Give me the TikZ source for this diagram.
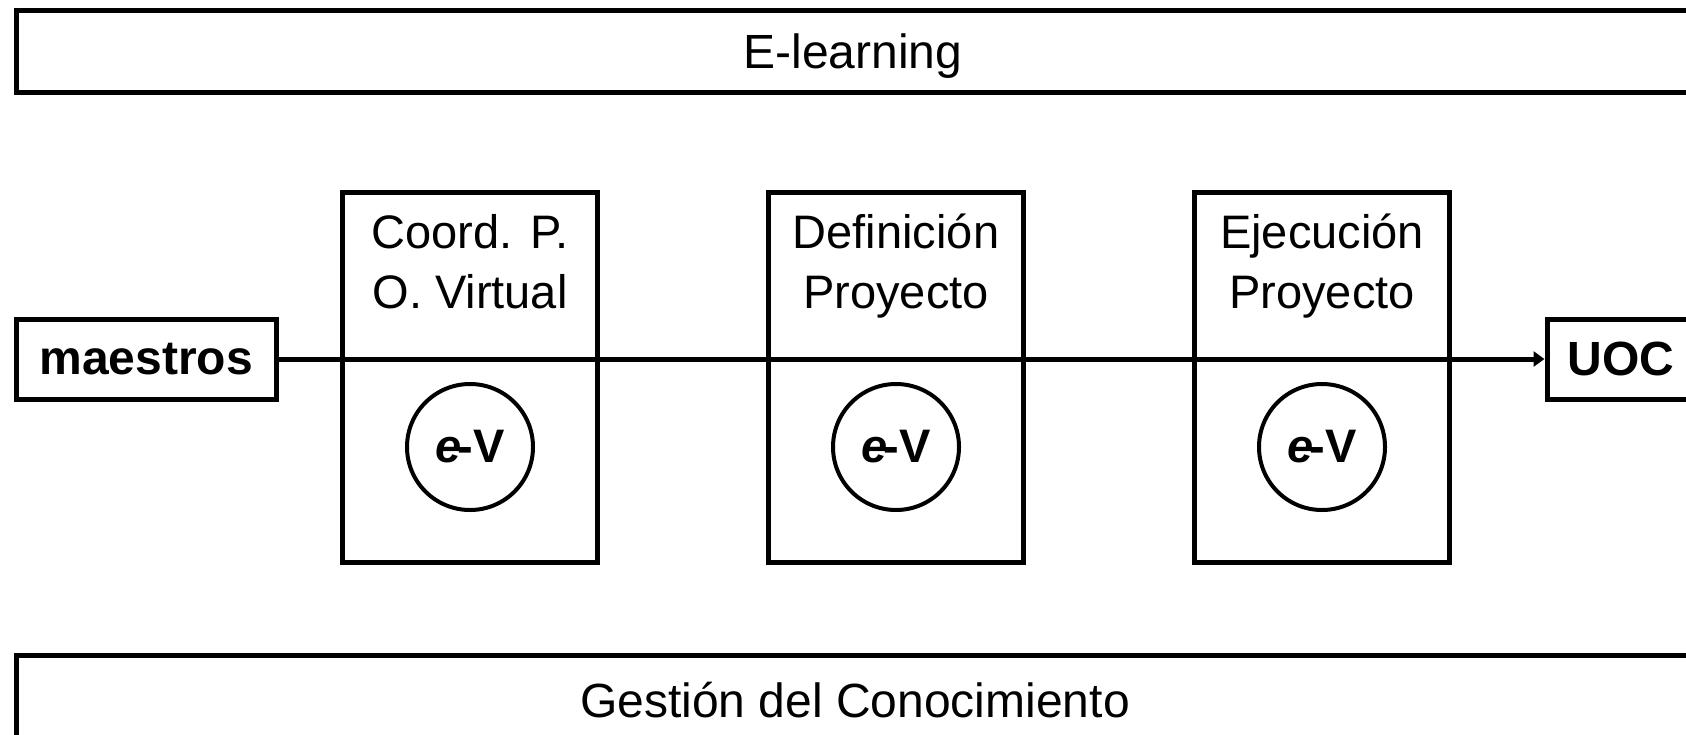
\documentclass[tikz,border=0pt]{standalone}
\usepackage{fontspec}
\setmainfont{Liberation Sans}

\usetikzlibrary{arrows.meta}

\tikzset{every picture/.style={line width=2.5pt}}

\begin{document}
\begin{tikzpicture}[x=0.5pt,y=0.5pt,yscale=-1,xscale=1,
  band/.style={draw, inner sep=0pt, minimum height=41pt, font=\fontsize{24}{29}\selectfont},
  actor/.style={draw, inner sep=0pt, minimum height=40pt, font=\bfseries\fontsize{24}{29}\selectfont},
  phase/.style={draw, inner sep=0pt, minimum width=127.75pt, minimum height=185pt},
  phasetxt/.style={align=center, inner sep=0pt, anchor=base, font=\fontsize{23.5}{30}\selectfont},
  evcircle/.style={draw, circle, line width=2pt, inner sep=0pt, minimum size=63pt, font=\bfseries\fontsize{23.5}{28}\selectfont}]
\clip (0,0) rectangle (1686,734);

%Shape: Rectangle (top band)
\node [band, text depth=0pt, minimum width=837pt] (elearn) at (853,51) {E-learning};
%Shape: Rectangle (bottom band)
\node [band, minimum width=839pt, minimum height=45pt] (gestion) at (855,700) {Gestión del Conocimiento};

%Shape: Rectangle (phases)
\node [phase] (coord) at (470,377.5) {};
\node [phase] (defin) at (896,377.5) {};
\node [phase] (ejec) at (1322,377.5) {};

% Text Node
\node [phasetxt] (coordtxt) at (470,308) {Coord. P.\\O. Virtual};
% Text Node
\node [phasetxt] (defintxt) at (896,308) {Definición\\Proyecto};
% Text Node
\node [phasetxt] (ejectxt) at (1322,308) {Ejecución\\Proyecto};

%Shape: Circle
\node [evcircle] (coordev) at (470,447) {\textit{e}\kern-0.08em-V};
\node [evcircle] (definev) at (896,447) {\textit{e}\kern-0.08em-V};
\node [evcircle] (ejecev) at (1322,447) {\textit{e}\kern-0.08em-V};

%Shape: Rectangle (ends)
\node [actor, minimum width=129.75pt] (maestros) at (146.25,359) {maestros};
\node [actor, minimum width=74pt] (uoc) at (1621,359) {UOC};

%Straight Lines
\draw [-{Triangle[length=5.5pt,width=7.5pt]}] (maestros) -- (uoc);

\end{tikzpicture}
\end{document}
